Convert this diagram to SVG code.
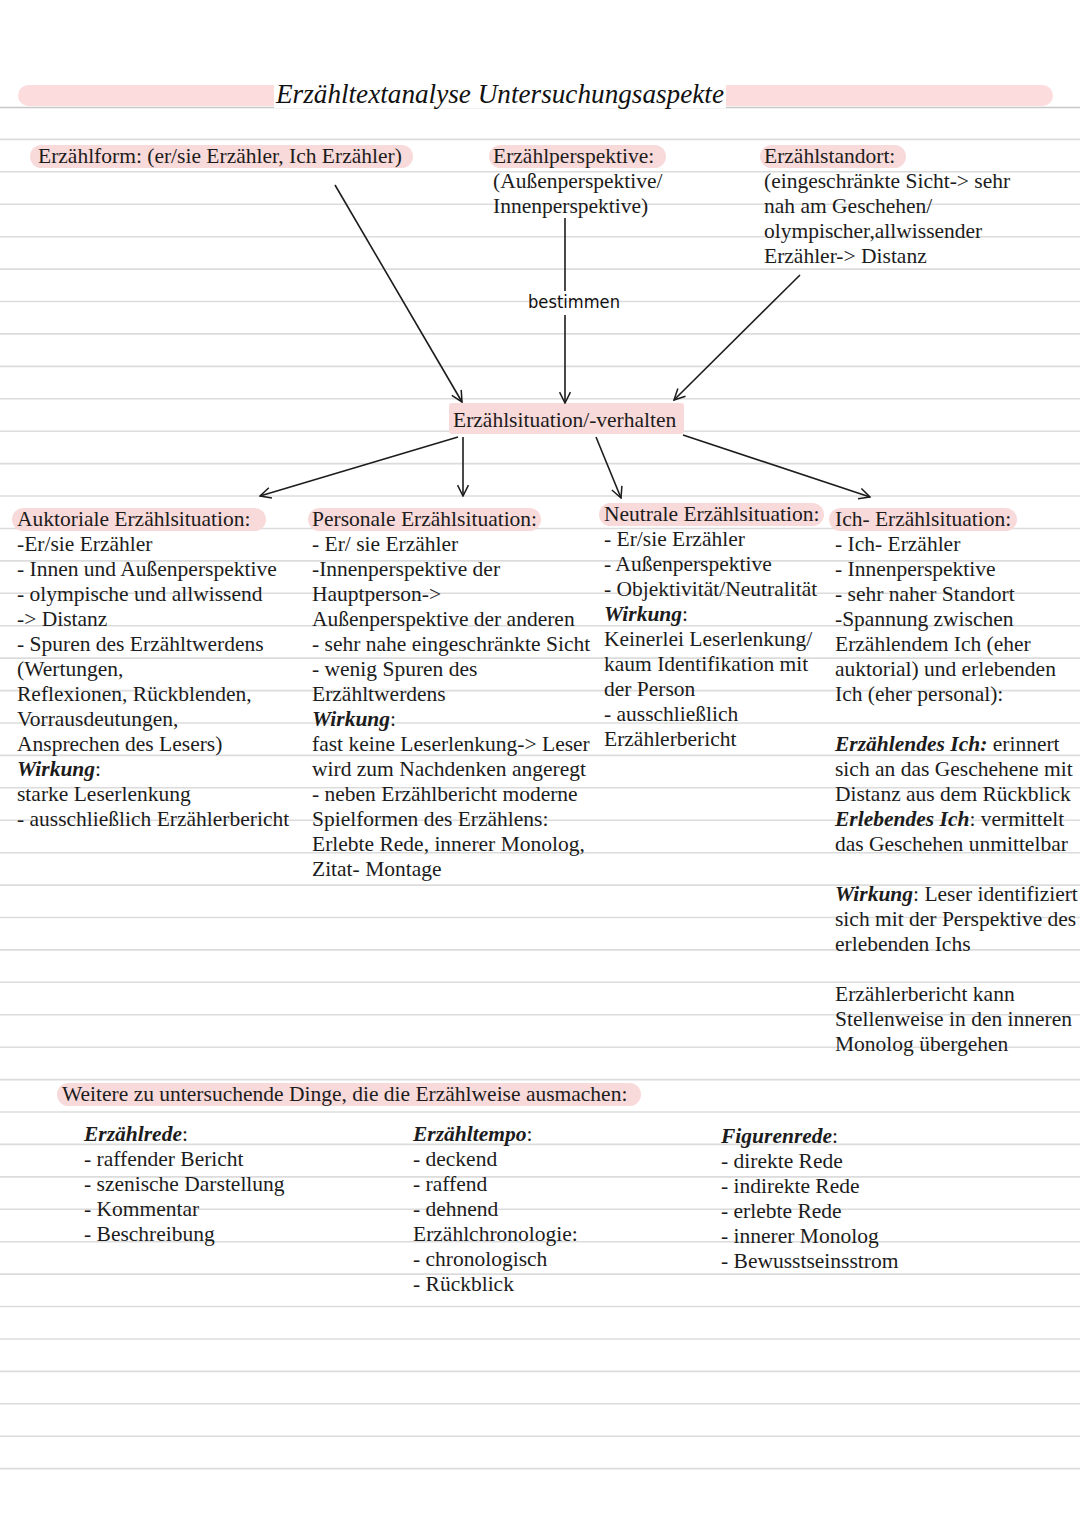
<svg xmlns="http://www.w3.org/2000/svg" width="1080" height="1527" viewBox="0 0 1080 1527">
<defs>
<style>
.t{font-family:"Liberation Serif","Times New Roman",serif;font-size:21.5px;fill:#1c1c1c}
.bi{font-weight:bold;font-style:italic}
.hl{fill:#f9dada}
.rule{stroke:#dcdcdc;stroke-width:1.6}
.con{stroke:#1c1c1c;stroke-width:1.6;fill:none}
</style>
<marker id="ah" viewBox="0 0 12 12" refX="11" refY="6" markerWidth="13" markerHeight="13" markerUnits="userSpaceOnUse" orient="auto">
<path d="M1,1 L11,6 L1,11" fill="none" stroke="#1c1c1c" stroke-width="1.4"/>
</marker>
</defs>
<rect width="1080" height="1527" fill="#ffffff"/>
<g id="rules">
<line class="rule" x1="0" x2="1080" y1="107.5" y2="107.5" style="stroke:#c8c8c8"/>
<line class="rule" x1="0" x2="1080" y1="139.4" y2="139.4"/>
<line class="rule" x1="0" x2="1080" y1="171.8" y2="171.8"/>
<line class="rule" x1="0" x2="1080" y1="204.3" y2="204.3"/>
<line class="rule" x1="0" x2="1080" y1="236.7" y2="236.7"/>
<line class="rule" x1="0" x2="1080" y1="269.1" y2="269.1"/>
<line class="rule" x1="0" x2="1080" y1="301.5" y2="301.5"/>
<line class="rule" x1="0" x2="1080" y1="333.9" y2="333.9"/>
<line class="rule" x1="0" x2="1080" y1="366.4" y2="366.4"/>
<line class="rule" x1="0" x2="1080" y1="398.8" y2="398.8"/>
<line class="rule" x1="0" x2="1080" y1="431.2" y2="431.2"/>
<line class="rule" x1="0" x2="1080" y1="463.6" y2="463.6"/>
<line class="rule" x1="0" x2="1080" y1="496.0" y2="496.0"/>
<line class="rule" x1="0" x2="1080" y1="528.5" y2="528.5"/>
<line class="rule" x1="0" x2="1080" y1="560.9" y2="560.9"/>
<line class="rule" x1="0" x2="1080" y1="593.3" y2="593.3"/>
<line class="rule" x1="0" x2="1080" y1="625.7" y2="625.7"/>
<line class="rule" x1="0" x2="1080" y1="658.1" y2="658.1"/>
<line class="rule" x1="0" x2="1080" y1="690.6" y2="690.6"/>
<line class="rule" x1="0" x2="1080" y1="723.0" y2="723.0"/>
<line class="rule" x1="0" x2="1080" y1="755.4" y2="755.4"/>
<line class="rule" x1="0" x2="1080" y1="787.8" y2="787.8"/>
<line class="rule" x1="0" x2="1080" y1="820.2" y2="820.2"/>
<line class="rule" x1="0" x2="1080" y1="852.7" y2="852.7"/>
<line class="rule" x1="0" x2="1080" y1="885.1" y2="885.1"/>
<line class="rule" x1="0" x2="1080" y1="917.5" y2="917.5"/>
<line class="rule" x1="0" x2="1080" y1="949.9" y2="949.9"/>
<line class="rule" x1="0" x2="1080" y1="982.3" y2="982.3"/>
<line class="rule" x1="0" x2="1080" y1="1014.8" y2="1014.8"/>
<line class="rule" x1="0" x2="1080" y1="1047.2" y2="1047.2"/>
<line class="rule" x1="0" x2="1080" y1="1079.6" y2="1079.6"/>
<line class="rule" x1="0" x2="1080" y1="1112.0" y2="1112.0"/>
<line class="rule" x1="0" x2="1080" y1="1144.4" y2="1144.4"/>
<line class="rule" x1="0" x2="1080" y1="1176.9" y2="1176.9"/>
<line class="rule" x1="0" x2="1080" y1="1209.3" y2="1209.3"/>
<line class="rule" x1="0" x2="1080" y1="1241.7" y2="1241.7"/>
<line class="rule" x1="0" x2="1080" y1="1274.1" y2="1274.1"/>
<line class="rule" x1="0" x2="1080" y1="1306.5" y2="1306.5"/>
<line class="rule" x1="0" x2="1080" y1="1339.0" y2="1339.0"/>
<line class="rule" x1="0" x2="1080" y1="1371.4" y2="1371.4"/>
<line class="rule" x1="0" x2="1080" y1="1403.8" y2="1403.8"/>
<line class="rule" x1="0" x2="1080" y1="1436.2" y2="1436.2"/>
<line class="rule" x1="0" x2="1080" y1="1468.6" y2="1468.6"/>
</g>

<g id="title">
<rect x="18" y="85" width="1035" height="21" rx="10.5" fill="#fcdcdc"/>
<rect x="274" y="82" width="452" height="26" fill="#ffffff"/>
<text x="276" y="103" class="t" style="font-size:27px;font-style:italic;fill:#111" textLength="448" lengthAdjust="spacingAndGlyphs">Erzähltextanalyse Untersuchungsaspekte</text>
</g>

<g id="erzaehlform">
<rect class="hl" x="30" y="145" width="383" height="23" rx="11.5"/>
<text class="t" x="38" y="163">Erzählform: (er/sie Erzähler, Ich Erzähler)</text>
</g>

<g id="erzaehlperspektive">
<rect class="hl" x="489" y="145" width="177" height="23" rx="11.5"/>
<text class="t" x="493" y="163">Erzählperspektive:</text>
<text class="t" x="493" y="188">(Außenperspektive/</text>
<text class="t" x="493" y="213">Innenperspektive)</text>
</g>

<g id="erzaehlstandort">
<rect class="hl" x="760" y="145" width="146" height="23" rx="11.5"/>
<text class="t" x="764" y="163">Erzählstandort:</text>
<text class="t" x="764" y="188">(eingeschränkte Sicht-&gt; sehr</text>
<text class="t" x="764" y="213">nah am Geschehen/</text>
<text class="t" x="764" y="238">olympischer,allwissender</text>
<text class="t" x="764" y="263">Erzähler-&gt; Distanz</text>
</g>

<g id="erzaehlsituation">
<rect class="hl" x="449" y="403" width="235" height="31" rx="3"/>
<text class="t" x="453" y="427">Erzählsituation/-verhalten</text>
</g>

<g id="auktorial">
<rect class="hl" x="12" y="508" width="254" height="23" rx="11.5"/>
<text class="t" x="17" y="526">Auktoriale Erzählsituation:</text>
<text class="t" x="17" y="551">-Er/sie Erzähler</text>
<text class="t" x="17" y="576">- Innen und Außenperspektive</text>
<text class="t" x="17" y="601">- olympische und allwissend</text>
<text class="t" x="17" y="626">-&gt; Distanz</text>
<text class="t" x="17" y="651">- Spuren des Erzähltwerdens</text>
<text class="t" x="17" y="676">(Wertungen,</text>
<text class="t" x="17" y="701">Reflexionen, Rückblenden,</text>
<text class="t" x="17" y="726">Vorrausdeutungen,</text>
<text class="t" x="17" y="751">Ansprechen des Lesers)</text>
<text class="t" x="17" y="776"><tspan class="bi">Wirkung</tspan>:</text>
<text class="t" x="17" y="801">starke Leserlenkung</text>
<text class="t" x="17" y="826">- ausschließlich Erzählerbericht</text>
</g>

<g id="personal">
<rect class="hl" x="308" y="508" width="233" height="23" rx="11.5"/>
<text class="t" x="312" y="526">Personale Erzählsituation:</text>
<text class="t" x="312" y="551">- Er/ sie Erzähler</text>
<text class="t" x="312" y="576">-Innenperspektive der</text>
<text class="t" x="312" y="601">Hauptperson-&gt;</text>
<text class="t" x="312" y="626">Außenperspektive der anderen</text>
<text class="t" x="312" y="651">- sehr nahe eingeschränkte Sicht</text>
<text class="t" x="312" y="676">- wenig Spuren des</text>
<text class="t" x="312" y="701">Erzähltwerdens</text>
<text class="t" x="312" y="726"><tspan class="bi">Wirkung</tspan>:</text>
<text class="t" x="312" y="751">fast keine Leserlenkung-&gt; Leser</text>
<text class="t" x="312" y="776">wird zum Nachdenken angeregt</text>
<text class="t" x="312" y="801">- neben Erzählbericht moderne</text>
<text class="t" x="312" y="826">Spielformen des Erzählens:</text>
<text class="t" x="312" y="851">Erlebte Rede, innerer Monolog,</text>
<text class="t" x="312" y="876">Zitat- Montage</text>
</g>

<g id="neutral">
<rect class="hl" x="599" y="503" width="225" height="23" rx="11.5"/>
<text class="t" x="604" y="521">Neutrale Erzählsituation:</text>
<text class="t" x="604" y="546">- Er/sie Erzähler</text>
<text class="t" x="604" y="571">- Außenperspektive</text>
<text class="t" x="604" y="596">- Objektivität/Neutralität</text>
<text class="t" x="604" y="621"><tspan class="bi">Wirkung</tspan>:</text>
<text class="t" x="604" y="646">Keinerlei Leserlenkung/</text>
<text class="t" x="604" y="671">kaum Identifikation mit</text>
<text class="t" x="604" y="696">der Person</text>
<text class="t" x="604" y="721">- ausschließlich</text>
<text class="t" x="604" y="746">Erzählerbericht</text>
</g>

<g id="ich">
<rect class="hl" x="829" y="508" width="188" height="23" rx="11.5"/>
<text class="t" x="835" y="526">Ich- Erzählsituation:</text>
<text class="t" x="835" y="551">- Ich- Erzähler</text>
<text class="t" x="835" y="576">- Innenperspektive</text>
<text class="t" x="835" y="601">- sehr naher Standort</text>
<text class="t" x="835" y="626">-Spannung zwischen</text>
<text class="t" x="835" y="651">Erzählendem Ich (eher</text>
<text class="t" x="835" y="676">auktorial) und erlebenden</text>
<text class="t" x="835" y="701">Ich (eher personal):</text>
<text class="t" x="835" y="751"><tspan class="bi">Erzählendes Ich:</tspan> erinnert</text>
<text class="t" x="835" y="776">sich an das Geschehene mit</text>
<text class="t" x="835" y="801">Distanz aus dem Rückblick</text>
<text class="t" x="835" y="826"><tspan class="bi">Erlebendes Ich</tspan>: vermittelt</text>
<text class="t" x="835" y="851">das Geschehen unmittelbar</text>
<text class="t" x="835" y="901"><tspan class="bi">Wirkung</tspan>: Leser identifiziert</text>
<text class="t" x="835" y="926">sich mit der Perspektive des</text>
<text class="t" x="835" y="951">erlebenden Ichs</text>
<text class="t" x="835" y="1001">Erzählerbericht kann</text>
<text class="t" x="835" y="1026">Stellenweise in den inneren</text>
<text class="t" x="835" y="1051">Monolog übergehen</text>
</g>

<g id="weitere">
<rect class="hl" x="57" y="1083" width="584" height="23" rx="11.5"/>
<text class="t" x="62" y="1101">Weitere zu untersuchende Dinge, die die Erzählweise ausmachen:</text>
</g>

<g id="erzaehlrede">
<text class="t" x="84" y="1141"><tspan class="bi">Erzählrede</tspan>:</text>
<text class="t" x="84" y="1166">- raffender Bericht</text>
<text class="t" x="84" y="1191">- szenische Darstellung</text>
<text class="t" x="84" y="1216">- Kommentar</text>
<text class="t" x="84" y="1241">- Beschreibung</text>
</g>

<g id="erzaehltempo">
<text class="t" x="413" y="1141"><tspan class="bi">Erzähltempo</tspan>:</text>
<text class="t" x="413" y="1166">- deckend</text>
<text class="t" x="413" y="1191">- raffend</text>
<text class="t" x="413" y="1216">- dehnend</text>
<text class="t" x="413" y="1241">Erzählchronologie:</text>
<text class="t" x="413" y="1266">- chronologisch</text>
<text class="t" x="413" y="1291">- Rückblick</text>
</g>

<g id="figurenrede">
<text class="t" x="721" y="1143"><tspan class="bi">Figurenrede</tspan>:</text>
<text class="t" x="721" y="1168">- direkte Rede</text>
<text class="t" x="721" y="1193">- indirekte Rede</text>
<text class="t" x="721" y="1218">- erlebte Rede</text>
<text class="t" x="721" y="1243">- innerer Monolog</text>
<text class="t" x="721" y="1268">- Bewusstseinsstrom</text>
</g>

<g id="connectors">
<line class="con" x1="335" y1="185" x2="462" y2="402" marker-end="url(#ah)"/>
<line class="con" x1="565" y1="218" x2="565" y2="291"/>
<line class="con" x1="565" y1="315" x2="565" y2="403" marker-end="url(#ah)"/>
<text x="528" y="308" textLength="92" lengthAdjust="spacingAndGlyphs" style="font-family:'DejaVu Sans',sans-serif;font-size:17px;fill:#111">bestimmen</text>
<line class="con" x1="800" y1="275" x2="674" y2="400" marker-end="url(#ah)"/>
<line class="con" x1="458" y1="437" x2="260" y2="496" marker-end="url(#ah)"/>
<line class="con" x1="463" y1="437" x2="463" y2="496" marker-end="url(#ah)"/>
<line class="con" x1="596" y1="437" x2="621" y2="498" marker-end="url(#ah)"/>
<line class="con" x1="683" y1="435" x2="870" y2="497" marker-end="url(#ah)"/>
</g>
</svg>
